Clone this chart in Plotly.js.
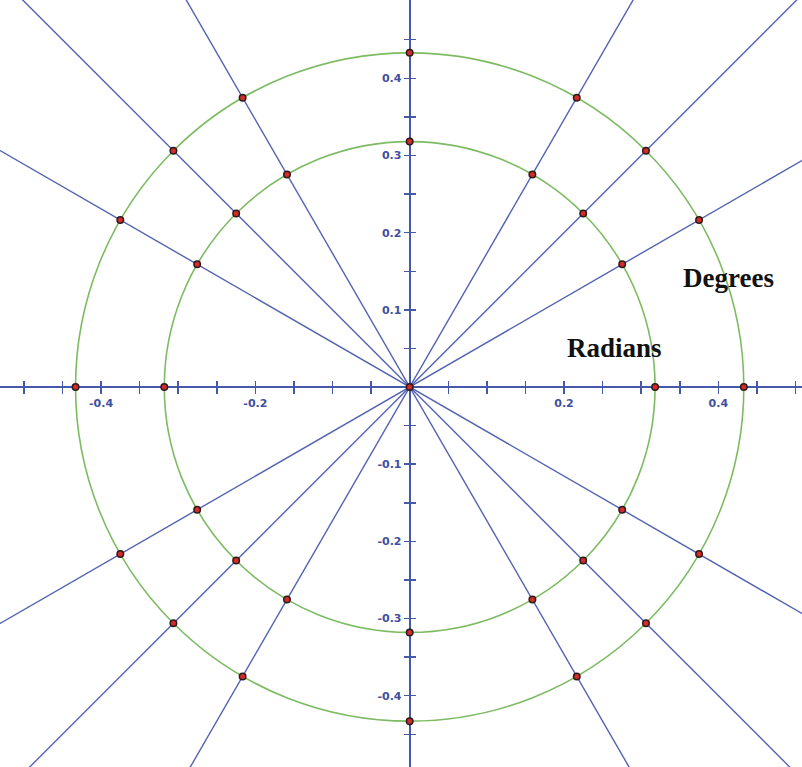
<!DOCTYPE html>
<html>
<head>
<meta charset="utf-8">
<script src="https://cdn.plot.ly/plotly-3.0.1.min.js"></script>
<style>html,body{margin:0;padding:0;background:#fff}#chart{width:802px;height:767px}</style>
</head>
<body>
<div id="chart"></div>
<script>
// ---- data ----
const circleRadii = [0.318, 0.433];            // inner (radians), outer (degrees)
const lineAngles = [30, 45, 60, 120, 135, 150];  // lines through the origin (degrees)
const pointAngles = [0, 30, 45, 60, 90, 120, 135, 150, 180, 210, 225, 240, 270, 300, 315, 330];
const xTickVals = [-0.5,-0.45,-0.4,-0.35,-0.3,-0.25,-0.2,-0.15,-0.1,-0.05,0.05,0.1,0.15,0.2,0.25,0.3,0.35,0.4,0.45,0.5];
const xTickText = ['','','-0.4','','','','-0.2','','','','','','','0.2','','','','0.4','',''];
const yTickVals = [-0.45,-0.4,-0.35,-0.3,-0.25,-0.2,-0.15,-0.1,-0.05,0.05,0.1,0.15,0.2,0.25,0.3,0.35,0.4,0.45];
const yTickText = ['','-0.4','','-0.3','','-0.2','','-0.1','','','0.1','','0.2','','0.3','','0.4',''];
const labels = [
  {text: 'Degrees', x: 0.413, y: 0.141},
  {text: 'Radians', x: 0.265, y: 0.050}
];

// ---- styles ----
const AXIS = '#4658a8', LINE = '#5363b0', GREEN = '#7dbb62', TICKFONT = '#3f50a0';
const xRange = [-0.5309, 0.5084], yRange = [-0.4924, 0.5015];
const xPos = (0 - yRange[0]) / (yRange[1] - yRange[0]);
const yPos = (0 - xRange[0]) / (xRange[1] - xRange[0]);
const rad = a => a * Math.PI / 180;

const traces = [];
lineAngles.forEach(a => {
  traces.push({
    x: [-Math.cos(rad(a)), Math.cos(rad(a))],
    y: [-Math.sin(rad(a)), Math.sin(rad(a))],
    mode: 'lines', line: {color: LINE, width: 1.4}, hoverinfo: 'skip', showlegend: false
  });
});
const px = [0], py = [0];
circleRadii.forEach(r => pointAngles.forEach(a => {
  px.push(r * Math.cos(rad(a))); py.push(r * Math.sin(rad(a)));
}));
traces.push({
  x: px, y: py, mode: 'markers', showlegend: false, hoverinfo: 'skip',
  marker: {size: 6.5, color: '#d42a2a', line: {color: '#2b1b1b', width: 1.5}}
});
// dummy trace to register the overlay axes
traces.push({x: [0], y: [0], xaxis: 'x2', yaxis: 'y2', mode: 'markers',
  marker: {opacity: 0, size: 1}, hoverinfo: 'skip', showlegend: false});

const shapes = circleRadii.map(r => ({
  type: 'circle', xref: 'x', yref: 'y', x0: -r, x1: r, y0: -r, y1: r,
  line: {color: GREEN, width: 1.6}, layer: 'below'
}));

const tickFont = {family: 'DejaVu Sans, Verdana, sans-serif', size: 11, color: TICKFONT, weight: 'bold'};
const baseX = {range: xRange, domain: [0, 1], anchor: 'free', position: xPos,
  showgrid: false, zeroline: false, showline: true, linecolor: AXIS, linewidth: 2,
  ticks: 'outside', ticklen: 6, tickwidth: 1.5, tickcolor: AXIS,
  tickmode: 'array', tickvals: xTickVals, ticktext: xTickText, tickfont: tickFont,
  layer: 'below traces', fixedrange: true};
const baseY = {range: yRange, domain: [0, 1], anchor: 'free', position: yPos,
  showgrid: false, zeroline: false, showline: true, linecolor: AXIS, linewidth: 2,
  ticks: 'outside', ticklen: 5, tickwidth: 1.5, tickcolor: AXIS,
  tickmode: 'array', tickvals: yTickVals, ticktext: yTickText, tickfont: tickFont,
  layer: 'below traces', fixedrange: true};

const layout = {
  width: 802, height: 767,
  margin: {l: 0, r: 0, t: 0, b: 0, pad: 0},
  paper_bgcolor: '#fff', plot_bgcolor: '#fff',
  showlegend: false,
  xaxis: Object.assign({}, baseX, {side: 'bottom'}),
  yaxis: Object.assign({}, baseY, {side: 'left'}),
  xaxis2: Object.assign({}, baseX, {side: 'top', overlaying: 'x', showticklabels: false, showline: false}),
  yaxis2: Object.assign({}, baseY, {side: 'right', overlaying: 'y', showticklabels: false, showline: false}),
  shapes: shapes,
  annotations: labels.map(l => ({
    text: '<b>' + l.text + '</b>', x: l.x, y: l.y, xref: 'x', yref: 'y',
    showarrow: false, xanchor: 'center', yanchor: 'middle',
    font: {family: 'Liberation Serif, Times New Roman, serif', size: 27, color: '#111'}
  }))
};

Plotly.newPlot('chart', traces, layout, {staticPlot: true, displayModeBar: false});
</script>
</body>
</html>
